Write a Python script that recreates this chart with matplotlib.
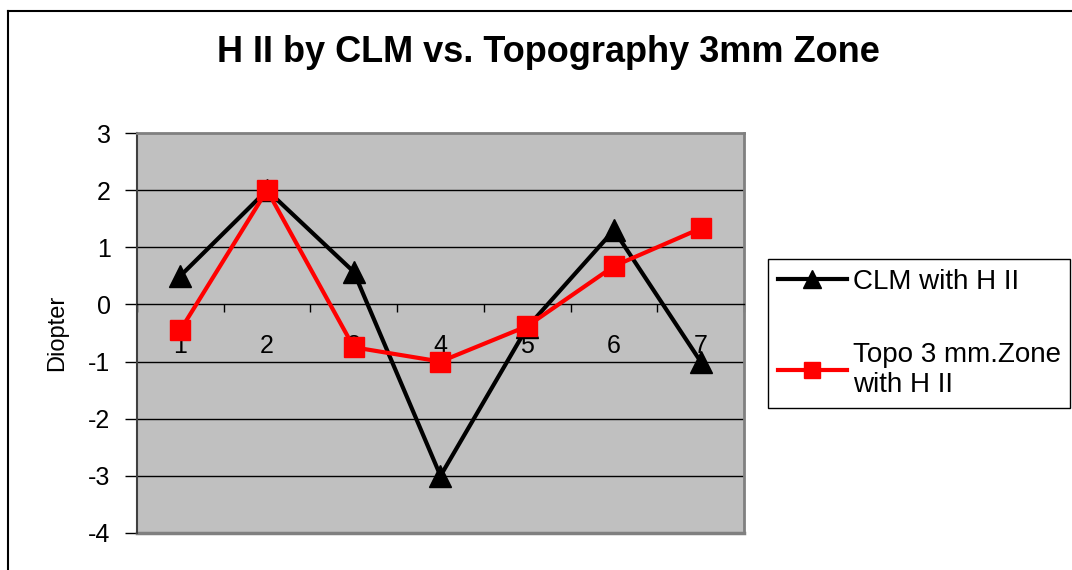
import numpy as np
import matplotlib
matplotlib.use("Agg")
import matplotlib.pyplot as plt
from matplotlib.lines import Line2D

plt.rcParams['font.family'] = ['Liberation Sans', 'DejaVu Sans']

categories = ["1", "2", "3", "4", "5", "6", "7"]
clm = [0.5, 2.0, 0.57, -3.0, -0.4, 1.3, -1.0]
topo = [-0.45, 2.0, -0.75, -1.0, -0.38, 0.67, 1.33]
series_names = ["CLM with H II", "Topo 3 mm.Zone\nwith H II"]
yticks = [-4, -3, -2, -1, 0, 1, 2, 3]

fig = plt.figure(figsize=(10.72, 5.70), dpi=100)
ax = fig.add_axes([137 / 1072, 37 / 570, 607 / 1072, 400 / 570])
ax.set_facecolor('#c0c0c0')

x = np.arange(1, len(categories) + 1)
ax.plot(x, clm, color='black', lw=3, marker='^', ms=16, mfc='black', mec='black',
        label=series_names[0], zorder=3)
ax.plot(x, topo, color='red', lw=3, marker='s', ms=15, mfc='red', mec='red',
        label=series_names[1], zorder=4)

ax.set_xlim(0.5, len(categories) + 0.5)
ax.set_ylim(-4, 3)
ax.set_yticks(yticks)
ax.set_yticklabels([str(v) for v in yticks])
for v in yticks[1:-1]:
    if v != 0:
        ax.axhline(v, color='black', lw=1, zorder=1)

# category axis sits at y = 0
ax.spines['bottom'].set_position(('data', 0))
ax.spines['bottom'].set_color('black')
ax.spines['bottom'].set_linewidth(1)
ax.spines['left'].set_color('#404040')
ax.spines['left'].set_linewidth(1.5)
for s in ['top', 'right']:
    ax.spines[s].set_color('#808080')
    ax.spines[s].set_linewidth(2)
ax.axhline(-4, color='#808080', lw=2.5, clip_on=False, zorder=2)

ax.set_xticks(x)
ax.set_xticklabels(categories)
ax.set_xticks(np.arange(0.5, len(categories) + 1), minor=True)
ax.tick_params(axis='x', which='major', length=0, pad=21, labelsize=18)
ax.tick_params(axis='x', which='minor', direction='out', length=6, width=1, color='black')
ax.tick_params(axis='y', length=9, width=1, pad=10, labelsize=18, color='black')

fig.text(57 / 1072, 1 - 333 / 570, "Diopter", rotation=90, fontsize=17,
         ha='center', va='center')
fig.text(548 / 1072, 1 - 52 / 570, "H II by CLM vs. Topography 3mm Zone",
         fontsize=26, fontweight='bold', ha='center', va='center')

leg = fig.legend(loc='upper left', bbox_to_anchor=(768 / 1072, 1 - 259 / 570),
                 bbox_transform=fig.transFigure, borderaxespad=0, fontsize=20,
                 fancybox=False, framealpha=1, edgecolor='black', handlelength=2.5,
                 handletextpad=0.2, borderpad=0.35, labelspacing=1.7, markerscale=0.8)
leg.get_frame().set_linewidth(1)

# outer chart border
fig.add_artist(Line2D([8 / 1072, 8 / 1072], [0, 1 - 11 / 570], color='black', lw=1.5,
                      transform=fig.transFigure))
fig.add_artist(Line2D([8 / 1072, 1], [1 - 11 / 570, 1 - 11 / 570], color='black', lw=1.5,
                      transform=fig.transFigure))

fig.savefig("out.png", dpi=100)
